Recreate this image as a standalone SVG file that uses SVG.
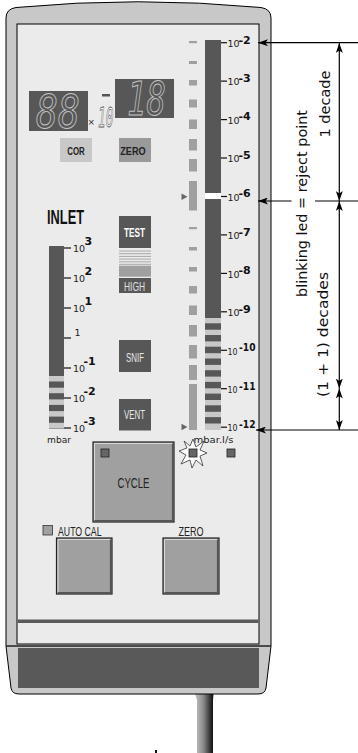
<svg xmlns="http://www.w3.org/2000/svg" width="358" height="753" viewBox="0 0 358 753">
<style>
.lbl{font-family:"Liberation Sans",Arial,sans-serif;}
.sc{font-family:"DejaVu Sans",sans-serif;font-size:9.5px;fill:#222;}
.sup{font-family:"DejaVu Sans",sans-serif;font-size:11px;font-weight:bold;fill:#111;}
.ann{font-family:"DejaVu Sans",sans-serif;font-size:14.5px;fill:#111;}
.tk{stroke:#111;stroke-width:1.2;}
.ln{stroke:#000;stroke-width:1.2;fill:none;}
.seg{fill:#a0a0a0;}
.dk{fill:#575757;}
.lt{fill:#c8c8c8;}
.btn{fill:#a0a0a0;stroke:#222;stroke-width:1.2;}
.led{fill:#666;stroke:#222;stroke-width:0.8;}
.dig{font-family:"DejaVu Sans Mono",monospace;font-style:italic;fill:none;stroke:#c4c4c4;stroke-width:1;}
</style>
<defs>
<marker id="ah" viewBox="0 0 10 7" refX="10" refY="3.5" markerWidth="10" markerHeight="7" markerUnits="userSpaceOnUse" orient="auto-start-reverse">
<path d="M0,0 L10,3.5 L0,7 L2.5,3.5 Z" fill="#000"/>
</marker>
<linearGradient id="cable" x1="0" y1="0" x2="1" y2="0">
<stop offset="0" stop-color="#c4c4c4"/>
<stop offset="0.45" stop-color="#8a8a8a"/>
<stop offset="1" stop-color="#0a0a0a"/>
</linearGradient>
</defs>

<g id="cable-g">
<path d="M195,694 L213.5,694 L213,700 L213,753 L197,753 L197,700 Z" fill="url(#cable)"/>
</g>

<g id="casing">
<path d="M6,646 L6,18 Q6,9 16,7.5 Q138,-4 261,7.5 Q271,9 271,18 L271,646 L266,688 Q265,694 258,694 L19,694 Q12,694 11,688 Z" fill="#c8c8c8" stroke="#000" stroke-width="1"/>
<line x1="6" y1="646" x2="271" y2="646" stroke="#222" stroke-width="1.3"/>
<rect x="18" y="648" width="241" height="40" fill="#595959"/>
</g>

<g id="panel">
<rect x="17" y="24" width="242" height="620" fill="#ebebeb" stroke="#000" stroke-width="1"/>
<rect x="17.5" y="619.5" width="241" height="3.5" fill="#5a5a5a"/>
</g>

<g id="display-left">
<rect x="29" y="91" width="59" height="40" class="dk"/>
<text x="36" y="128" class="dig" font-size="47" textLength="44" lengthAdjust="spacingAndGlyphs">88</text>
</g>
<g id="exponent">
<text x="88" y="125.5" class="lbl" font-size="11" fill="#333">×</text>
<text x="98" y="127" font-family="DejaVu Sans Mono,monospace" font-style="italic" font-size="27" fill="#fff" stroke="#555" stroke-width="0.8" textLength="15.5" lengthAdjust="spacingAndGlyphs">10</text>
<rect x="102" y="94" width="8" height="2.5" fill="#555"/>
</g>
<g id="display-right">
<rect x="115" y="79" width="59" height="39" class="dk"/>
<text x="127" y="115" class="dig" font-size="46" textLength="39" lengthAdjust="spacingAndGlyphs">18</text>
</g>

<g id="btn-cor">
<rect x="60" y="138" width="32" height="24" fill="#c8c8c8"/>
<text x="76" y="155" class="lbl" font-size="11.5" font-weight="bold" fill="#222" text-anchor="middle" textLength="17.5" lengthAdjust="spacingAndGlyphs">COR</text>
</g>
<g id="btn-zero-top">
<rect x="119" y="138" width="32" height="24" fill="#9a9a9a"/>
<text x="133" y="155" class="lbl" font-size="11.5" font-weight="bold" fill="#222" text-anchor="middle" textLength="25.5" lengthAdjust="spacingAndGlyphs">ZERO</text>
</g>

<g id="inlet">
<text x="47" y="224" class="lbl" font-size="20" font-weight="bold" fill="#111" textLength="37" lengthAdjust="spacingAndGlyphs">INLET</text>
<rect x="49" y="246" width="15" height="183" class="dk"/>
<rect x="49" y="376" width="15" height="5.5" class="lt"/>
<rect x="49" y="387.7" width="15" height="5.5" class="lt"/>
<rect x="49" y="399.4" width="15" height="5.5" class="lt"/>
<rect x="49" y="411.1" width="15" height="5.5" class="lt"/>
<rect x="49" y="422.8" width="15" height="5.8" class="lt"/>
<g class="tk">
<line x1="64" y1="248" x2="71" y2="248"/>
<line x1="64" y1="278" x2="71" y2="278"/>
<line x1="64" y1="308" x2="71" y2="308"/>
<line x1="64" y1="338" x2="71" y2="338"/>
<line x1="64" y1="368" x2="71" y2="368"/>
<line x1="64" y1="398" x2="71" y2="398"/>
<line x1="64" y1="428" x2="71" y2="428"/>
</g>
<text x="73" y="251.7" class="sc">10</text><text x="84.5" y="245" class="sup">3</text>
<text x="73" y="281.7" class="sc">10</text><text x="84.5" y="275" class="sup">2</text>
<text x="73" y="311.7" class="sc">10</text><text x="84.5" y="305" class="sup">1</text>
<text x="74.5" y="336" class="sc">1</text>
<text x="73" y="371.7" class="sc">10</text><text x="83.5" y="365" class="sup">-1</text>
<text x="73" y="401.7" class="sc">10</text><text x="83.5" y="395" class="sup">-2</text>
<text x="73" y="431.7" class="sc">10</text><text x="83.5" y="425" class="sup">-3</text>
<text x="47" y="442.5" class="sc" font-size="10" textLength="24" lengthAdjust="spacingAndGlyphs">mbar</text>
</g>

<g id="btn-test">
<rect x="119" y="216" width="32" height="32" class="dk"/>
<text x="134.5" y="236.5" class="lbl" font-size="12" font-weight="bold" fill="#fff" text-anchor="middle" textLength="21" lengthAdjust="spacingAndGlyphs">TEST</text>
<g stroke="#a8a8a8" stroke-width="1">
<line x1="119" y1="251" x2="151" y2="251"/>
<line x1="119" y1="253.7" x2="151" y2="253.7"/>
<line x1="119" y1="256.4" x2="151" y2="256.4"/>
<line x1="119" y1="259.1" x2="151" y2="259.1"/>
<line x1="119" y1="261.8" x2="151" y2="261.8"/>
<line x1="119" y1="264.3" x2="151" y2="264.3"/>
</g>
<rect x="119" y="265.7" width="32" height="11" fill="#a0a0a0"/>
<rect x="119" y="278" width="32" height="15" class="dk"/>
<text x="134.5" y="290.7" class="lbl" font-size="12" fill="#e0e0e0" text-anchor="middle" textLength="21" lengthAdjust="spacingAndGlyphs">HIGH</text>
</g>
<g id="btn-snif">
<rect x="119" y="340" width="32" height="32" class="dk"/>
<text x="135" y="361.7" class="lbl" font-size="12" fill="#e8e8e8" text-anchor="middle" textLength="18" lengthAdjust="spacingAndGlyphs">SNIF</text>
</g>
<g id="btn-vent">
<rect x="119" y="399" width="32" height="31.5" class="dk"/>
<text x="134.5" y="419.3" class="lbl" font-size="12" fill="#e8e8e8" text-anchor="middle" textLength="21" lengthAdjust="spacingAndGlyphs">VENT</text>
</g>

<g id="led-column">
<rect x="189" y="41" width="8" height="2.2" class="seg"/>
<rect x="189" y="61" width="8" height="3" class="seg"/>
<rect x="189" y="80" width="8" height="5.5" class="seg"/>
<rect x="189" y="99.5" width="8" height="8" class="seg"/>
<rect x="189" y="119.5" width="8" height="9.5" class="seg"/>
<rect x="189" y="139" width="8" height="11.5" class="seg"/>
<rect x="189" y="159" width="8" height="12.5" class="seg"/>
<rect x="189" y="181" width="8" height="29.5" class="seg"/>
<rect x="189" y="227" width="8" height="2.2" class="seg"/>
<rect x="189" y="247" width="8" height="3.5" class="seg"/>
<rect x="189" y="267" width="8" height="4.5" class="seg"/>
<rect x="189" y="286" width="8" height="7.5" class="seg"/>
<rect x="189" y="305.5" width="8" height="9.5" class="seg"/>
<rect x="189" y="325" width="8" height="11.5" class="seg"/>
<rect x="189" y="345" width="8" height="13.5" class="seg"/>
<rect x="189" y="365" width="8" height="15" class="seg"/>
<rect x="189" y="384" width="8" height="46" class="seg"/>
<path d="M181.5,193.5 L187.5,196.8 L181.5,200 Z" fill="#666"/>
<path d="M181.5,423.7 L187.5,427 L181.5,430.2 Z" fill="#666"/>
</g>

<g id="bargraph">
<rect x="205" y="40" width="16" height="390" class="dk"/>
<rect x="205" y="193" width="16" height="6" fill="#fff"/>
<rect x="205" y="318" width="16" height="5.3" class="lt"/>
<rect x="205" y="329.7" width="16" height="5.3" class="lt"/>
<rect x="205" y="341.4" width="16" height="5.3" class="lt"/>
<rect x="205" y="353.2" width="16" height="5.3" class="lt"/>
<rect x="205" y="364.9" width="16" height="5.3" class="lt"/>
<rect x="205" y="376.6" width="16" height="5.3" class="lt"/>
<rect x="205" y="388.3" width="16" height="5.3" class="lt"/>
<rect x="205" y="400" width="16" height="5.3" class="lt"/>
<rect x="205" y="411.8" width="16" height="5.3" class="lt"/>
<rect x="205" y="423.5" width="16" height="6.5" class="lt"/>
<g class="tk">
<line x1="221" y1="42.7" x2="227" y2="42.7"/>
<line x1="221" y1="81.1" x2="227" y2="81.1"/>
<line x1="221" y1="119.6" x2="227" y2="119.6"/>
<line x1="221" y1="158" x2="227" y2="158"/>
<line x1="221" y1="196.5" x2="227" y2="196.5"/>
<line x1="221" y1="234.9" x2="227" y2="234.9"/>
<line x1="221" y1="273.4" x2="227" y2="273.4"/>
<line x1="221" y1="311.8" x2="227" y2="311.8"/>
<line x1="221" y1="350.3" x2="227" y2="350.3"/>
<line x1="221" y1="388.7" x2="227" y2="388.7"/>
<line x1="221" y1="427.2" x2="227" y2="427.2"/>
</g>
<text x="227.5" y="46.9" class="sc">10</text><text x="238.5" y="43.5" class="sup">-2</text>
<text x="227.5" y="85.3" class="sc">10</text><text x="238.5" y="81.9" class="sup">-3</text>
<text x="227.5" y="123.8" class="sc">10</text><text x="238.5" y="120.4" class="sup">-4</text>
<text x="227.5" y="162.2" class="sc">10</text><text x="238.5" y="158.8" class="sup">-5</text>
<text x="227.5" y="200.7" class="sc">10</text><text x="238.5" y="197.3" class="sup">-6</text>
<text x="227.5" y="239.1" class="sc">10</text><text x="238.5" y="235.7" class="sup">-7</text>
<text x="227.5" y="277.6" class="sc">10</text><text x="238.5" y="274.2" class="sup">-8</text>
<text x="227.5" y="316" class="sc">10</text><text x="238.5" y="312.6" class="sup">-9</text>
<text x="227.5" y="354.5" class="sc" textLength="10" lengthAdjust="spacingAndGlyphs">10</text><text x="239" y="351.1" class="sup" textLength="16.5" lengthAdjust="spacingAndGlyphs">-10</text>
<text x="227.5" y="392.9" class="sc" textLength="10" lengthAdjust="spacingAndGlyphs">10</text><text x="239" y="389.5" class="sup" textLength="16.5" lengthAdjust="spacingAndGlyphs">-11</text>
<text x="227.5" y="431.4" class="sc" textLength="10" lengthAdjust="spacingAndGlyphs">10</text><text x="239" y="428" class="sup" textLength="16.5" lengthAdjust="spacingAndGlyphs">-12</text>
<text x="193.5" y="442.5" class="sc" font-size="10" textLength="40" lengthAdjust="spacingAndGlyphs">mbar.l/s</text>
</g>

<g id="btn-cycle">
<rect x="93" y="442" width="81" height="80" class="btn"/>
<polyline points="94.5,520.5 94.5,443.5 172.5,443.5" fill="none" stroke="#d8d8d8" stroke-width="1"/>
<polyline points="94.5,520.5 172.5,520.5 172.5,443.5" fill="none" stroke="#555" stroke-width="1.2"/>
<rect x="101" y="449" width="8" height="8" class="led"/>
<text x="133.5" y="488.3" class="lbl" font-size="15" fill="#222" text-anchor="middle" textLength="32" lengthAdjust="spacingAndGlyphs">CYCLE</text>
</g>

<g id="led-blink">
<path d="M193,439 L196,447 L204,441 L200,450 L207,453 L200,456 L203,466 L196,460 L192,468 L190,460 L181,464 L186,455 L179,451 L187,448 L184,441 L190,446 Z" fill="#fff" stroke="#333" stroke-width="0.8"/>
<rect x="189" y="449" width="8" height="8" class="led"/>
</g>
<g id="led-right">
<rect x="227" y="449" width="8" height="8" class="led"/>
</g>

<g id="autocal">
<rect x="43" y="525.5" width="9.5" height="9.5" fill="#a0a0a0" stroke="#333" stroke-width="0.8"/>
<text x="58" y="536" class="lbl" font-size="13" fill="#222" textLength="43.5" lengthAdjust="spacingAndGlyphs">AUTO CAL</text>
<rect x="56.5" y="538" width="55.5" height="56" class="btn"/>
<polyline points="58,592.5 58,539.5 110.5,539.5" fill="none" stroke="#d8d8d8" stroke-width="1"/>
<polyline points="58,592.5 110.5,592.5 110.5,539.5" fill="none" stroke="#555" stroke-width="1.2"/>
</g>
<g id="zero-bottom">
<text x="191" y="536" class="lbl" font-size="13" fill="#222" text-anchor="middle" textLength="25" lengthAdjust="spacingAndGlyphs">ZERO</text>
<rect x="163" y="538" width="56" height="56" class="btn"/>
<polyline points="164.5,592.5 164.5,539.5 217.5,539.5" fill="none" stroke="#d8d8d8" stroke-width="1"/>
<polyline points="164.5,592.5 217.5,592.5 217.5,539.5" fill="none" stroke="#555" stroke-width="1.2"/>
</g>

<g id="connectors">
<line x1="358" y1="42.7" x2="258" y2="42.7" class="ln" marker-end="url(#ah)"/>
<line x1="291.5" y1="201" x2="258" y2="201" class="ln" marker-end="url(#ah)"/>
<line x1="315" y1="201" x2="358" y2="201" class="ln"/>
<line x1="358" y1="430" x2="256" y2="430" class="ln" marker-end="url(#ah)"/>
<line x1="339.3" y1="43" x2="339.3" y2="201" class="ln" marker-start="url(#ah)" marker-end="url(#ah)"/>
<line x1="339.3" y1="201" x2="339.3" y2="388.5" class="ln" marker-start="url(#ah)" marker-end="url(#ah)"/>
<line x1="339.3" y1="388.5" x2="339.3" y2="430" class="ln" marker-start="url(#ah)" marker-end="url(#ah)"/>
</g>

<g id="annotations">
<text transform="translate(307,203.5) rotate(-90)" class="ann" text-anchor="middle" textLength="187" lengthAdjust="spacingAndGlyphs">blinking led = reject point</text>
<text transform="translate(330,104) rotate(-90)" class="ann" text-anchor="middle">1 decade</text>
<text transform="translate(328,334.5) rotate(-90)" class="ann" text-anchor="middle" textLength="125" lengthAdjust="spacingAndGlyphs">(1 + 1) decades</text>
</g>

<rect x="155" y="750" width="2" height="3" fill="#111"/>
</svg>
